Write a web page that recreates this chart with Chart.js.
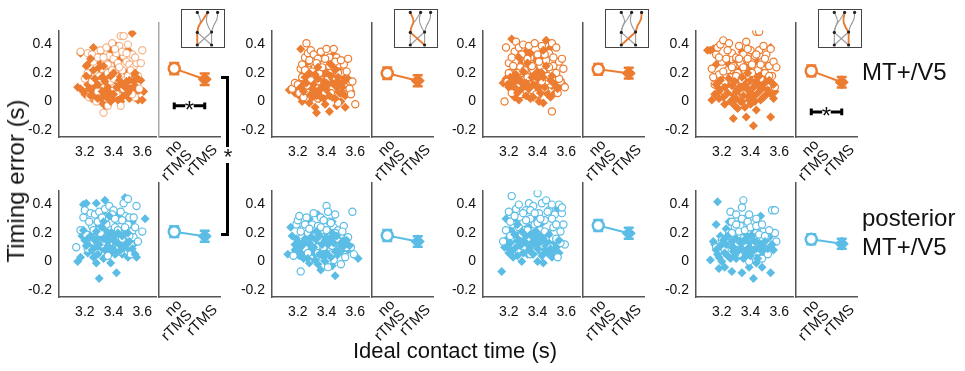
<!DOCTYPE html>
<html><head><meta charset="utf-8">
<script src="https://cdn.jsdelivr.net/npm/chart.js@4.4.1/dist/chart.umd.min.js"></script>
<style>
body{margin:0;background:#fff;width:965px;height:371px;overflow:hidden;position:relative;font-family:"Liberation Sans",Arial,sans-serif;}
canvas{position:absolute;}
.t{position:absolute;color:#111;white-space:nowrap;}
.box{position:absolute;border:1.5px solid #444;box-sizing:border-box;}
.bar{position:absolute;background:#000;}
</style></head><body>
<script>
// ---------------- DATA ----------------
const yTickVals = [-0.2, 0, 0.2, 0.4];
const xTickVals = [3.2, 3.4, 3.6];
const condLabels = [["no", "rTMS"], "rTMS"];
const rowLabels = [["MT+/V5"], ["posterior", "MT+/V5"]];
const yTitle = "Timing error (s)";
const xTitle = "Ideal contact time (s)";

// mean timing error per panel (no rTMS / rTMS) and error bars
const topNoMean = [0.20, 0.17, 0.195, 0.185];
const topNoErr  = [0.037, 0.038, 0.036, 0.035];
const topRMean  = [0.13, 0.12, 0.17, 0.11];
const topRErr   = [0.038, 0.036, 0.035, 0.034];
const botNoMean = [0.18, 0.155, 0.22, 0.13];
const botNoErr  = [0.036, 0.036, 0.036, 0.033];
const botRMean  = [0.15, 0.115, 0.17, 0.10];
const botRErr   = [0.036, 0.035, 0.036, 0.033];

// significance brackets (top row panels 1 and 4)
const sigPanels = [0, 3];
const sigLevels = [-0.045, -0.085];

// scatter: [ideal contact time, timing error]; rTMS = diamonds (two plotting batches), no rTMS = circles
const p1Dia = [[3.15,0.10],[3.17,0.09],[3.17,0.34],[3.19,0.07],[3.2,0.05],[3.21,0.25],[3.22,0.26],[3.22,0.12],[3.23,0.15],[3.24,0.2],[3.25,0.08],[3.25,0.02],[3.26,0.38],[3.27,0.3],[3.27,0.11],[3.28,0.17],[3.28,0.05],[3.29,0.22],[3.3,0.14],[3.3,0.08],[3.31,0.33],[3.31,0.0],[3.32,0.12],[3.33,0.04],[3.33,0.19],[3.34,-0.03],[3.34,0.09],[3.35,0.03],[3.35,0.28],[3.36,0.13],[3.37,0.06],[3.37,0.21],[3.38,0.1],[3.39,0.02],[3.39,0.16],[3.4,0.12],[3.41,0.07],[3.41,0.25],[3.42,0.39],[3.42,0.04],[3.43,0.18],[3.44,0.11],[3.45,0.0],[3.45,0.3],[3.46,0.08],[3.47,0.14],[3.48,0.05],[3.49,0.2],[3.5,0.1],[3.5,0.36],[3.51,0.02],[3.52,0.2],[3.53,0.48],[3.53,0.12],[3.54,0.19],[3.55,0.06],[3.56,0.1],[3.57,0.01],[3.58,0.08],[3.6,0.01],[3.61,0.07],[3.59,0.15],[3.31,0.27],[3.26,0.13],[3.35,0.15],[3.44,0.21],[3.38,0.36]];
const p1DiaB = [[3.21,0.18],[3.23,0.09],[3.24,0.04],[3.26,0.22],[3.27,0.16],[3.29,0.12],[3.29,0.02],[3.3,0.24],[3.32,0.07],[3.32,0.17],[3.34,0.14],[3.36,0.05],[3.36,0.1],[3.38,0.0],[3.38,0.18],[3.4,0.05],[3.4,0.2],[3.42,0.1],[3.43,0.01],[3.44,0.15],[3.46,0.12],[3.46,0.03],[3.48,0.1],[3.49,0.14],[3.5,0.06],[3.51,0.15],[3.52,0.09],[3.54,0.14],[3.55,0.2],[3.57,0.16],[3.24,0.3],[3.33,0.25]];
const p1Cir = [[3.17,0.35],[3.2,0.16],[3.22,0.34],[3.23,0.03],[3.25,0.33],[3.27,0.2],[3.28,0.0],[3.3,0.18],[3.31,0.36],[3.32,0.23],[3.33,-0.08],[3.34,0.28],[3.35,0.38],[3.36,0.2],[3.37,0.32],[3.38,0.25],[3.39,0.41],[3.4,0.3],[3.4,0.1],[3.41,0.2],[3.42,0.34],[3.43,0.27],[3.44,0.39],[3.45,0.46],[3.46,0.22],[3.47,0.46],[3.47,0.32],[3.48,0.15],[3.49,0.28],[3.5,0.4],[3.51,0.26],[3.52,0.14],[3.53,0.33],[3.54,0.24],[3.55,0.03],[3.56,0.27],[3.57,0.18],[3.58,0.09],[3.6,0.36],[3.59,0.27],[3.36,-0.03],[3.45,-0.03],[3.29,0.07],[3.25,0.14],[3.42,0.05],[3.5,0.18],[3.38,0.14],[3.33,0.12],[3.47,0.09],[3.22,0.2],[3.26,0.28],[3.29,0.31],[3.33,0.31],[3.36,0.26],[3.39,0.22],[3.41,0.37],[3.44,0.24],[3.46,0.35],[3.49,0.34],[3.52,0.22],[3.55,0.31],[3.3,0.13],[3.4,0.16],[3.53,0.05]];
const p2Dia = [[3.14,0.08],[3.17,0.09],[3.18,0.06],[3.2,0.1],[3.21,0.04],[3.22,0.37],[3.23,0.15],[3.23,0.0],[3.24,0.2],[3.25,0.12],[3.26,0.05],[3.26,0.27],[3.27,0.18],[3.28,0.09],[3.28,-0.01],[3.29,0.3],[3.3,0.14],[3.3,0.03],[3.31,0.22],[3.32,0.08],[3.32,-0.04],[3.33,0.17],[3.33,-0.08],[3.34,0.11],[3.35,0.02],[3.35,0.25],[3.36,0.14],[3.37,0.06],[3.37,0.32],[3.38,0.19],[3.39,0.1],[3.39,-0.02],[3.4,0.14],[3.41,0.07],[3.41,0.28],[3.42,-0.07],[3.42,0.18],[3.43,0.12],[3.44,0.03],[3.45,0.2],[3.45,0.33],[3.46,0.09],[3.47,0.15],[3.47,-0.03],[3.48,0.24],[3.49,0.06],[3.5,0.12],[3.5,0.0],[3.51,0.18],[3.52,0.28],[3.53,0.04],[3.53,-0.04],[3.54,0.1],[3.55,0.16],[3.57,0.07],[3.29,0.1],[3.36,0.2],[3.44,0.24],[3.27,0.13]];
const p2DiaB = [[3.22,0.1],[3.24,0.07],[3.25,0.17],[3.26,0.13],[3.28,0.2],[3.29,0.05],[3.3,0.09],[3.31,0.12],[3.32,0.19],[3.33,0.04],[3.34,0.16],[3.35,0.08],[3.36,0.03],[3.37,0.11],[3.38,0.14],[3.38,0.02],[3.4,0.08],[3.4,0.2],[3.41,0.12],[3.42,0.04],[3.43,0.18],[3.44,0.13],[3.46,0.22],[3.46,0.02],[3.47,0.1],[3.48,0.17],[3.49,0.13],[3.5,0.06],[3.51,0.1],[3.52,0.14],[3.34,0.24],[3.43,0.26]];
const p2Cir = [[3.16,0.09],[3.18,0.13],[3.2,0.12],[3.21,0.06],[3.22,0.23],[3.23,0.26],[3.24,0.03],[3.25,0.31],[3.26,0.41],[3.27,0.34],[3.27,0.07],[3.28,0.22],[3.29,0.36],[3.3,0.28],[3.31,0.17],[3.31,0.33],[3.32,0.24],[3.33,0.12],[3.34,0.3],[3.35,0.2],[3.36,0.35],[3.37,0.15],[3.38,0.26],[3.39,0.06],[3.4,0.37],[3.4,0.23],[3.41,0.16],[3.42,0.31],[3.43,0.22],[3.44,0.09],[3.45,0.37],[3.45,0.27],[3.46,0.18],[3.47,0.31],[3.48,0.12],[3.49,0.26],[3.5,0.2],[3.51,0.09],[3.52,0.26],[3.53,0.1],[3.54,0.21],[3.55,0.3],[3.56,0.09],[3.57,0.05],[3.58,0.14],[3.6,-0.02],[3.34,0.02],[3.48,-0.01],[3.29,0.15],[3.39,0.13],[3.23,0.17],[3.25,0.22],[3.28,0.29],[3.3,0.21],[3.33,0.27],[3.35,0.14],[3.37,0.24],[3.39,0.3],[3.42,0.25],[3.44,0.17],[3.46,0.28],[3.48,0.2],[3.5,0.29],[3.27,0.11],[3.43,0.06]];
const p3Dia = [[3.16,0.13],[3.18,0.16],[3.2,0.1],[3.21,0.12],[3.22,0.44],[3.22,0.08],[3.23,0.18],[3.24,0.03],[3.25,0.13],[3.26,0.35],[3.27,0.2],[3.27,0.01],[3.28,0.1],[3.29,0.27],[3.3,0.15],[3.3,0.05],[3.31,0.33],[3.32,0.19],[3.33,0.08],[3.33,0.36],[3.34,0.14],[3.35,0.25],[3.35,0.02],[3.36,0.11],[3.37,0.19],[3.38,0.06],[3.38,0.3],[3.39,0.14],[3.4,0.23],[3.41,0.09],[3.41,0.0],[3.42,0.16],[3.43,0.31],[3.44,0.12],[3.44,-0.01],[3.45,0.2],[3.46,0.43],[3.46,0.07],[3.47,0.14],[3.48,0.24],[3.49,0.03],[3.5,0.11],[3.51,0.17],[3.52,0.06],[3.53,0.13],[3.55,0.1],[3.56,0.15],[3.58,0.12],[3.26,0.16],[3.31,0.12],[3.36,0.22],[3.42,0.27],[3.48,0.37]];
const p3DiaB = [[3.19,0.12],[3.21,0.17],[3.22,0.14],[3.24,0.1],[3.25,0.19],[3.26,0.06],[3.28,0.15],[3.29,0.09],[3.3,0.21],[3.32,0.13],[3.32,0.04],[3.33,0.27],[3.34,0.09],[3.36,0.17],[3.37,0.12],[3.37,0.03],[3.39,0.2],[3.4,0.1],[3.4,0.16],[3.42,0.06],[3.43,0.2],[3.44,0.17],[3.45,0.1],[3.46,0.25],[3.47,0.05],[3.49,0.15],[3.5,0.18],[3.52,0.12],[3.54,0.09],[3.27,0.31],[3.35,0.34],[3.44,0.36]];
const p3Cir = [[3.17,0.0],[3.18,0.38],[3.19,0.14],[3.2,0.27],[3.21,0.2],[3.22,0.06],[3.23,0.25],[3.24,0.35],[3.25,0.42],[3.26,0.1],[3.27,0.38],[3.28,0.24],[3.29,0.15],[3.3,0.4],[3.31,0.06],[3.32,0.28],[3.33,0.17],[3.34,0.39],[3.35,0.31],[3.36,0.08],[3.37,0.22],[3.38,0.41],[3.39,0.18],[3.4,0.33],[3.41,0.05],[3.42,0.25],[3.43,0.39],[3.44,0.21],[3.45,0.09],[3.46,0.29],[3.47,0.18],[3.48,0.34],[3.49,0.12],[3.5,-0.07],[3.5,0.41],[3.51,0.25],[3.52,0.17],[3.53,0.38],[3.54,0.06],[3.55,0.28],[3.56,0.14],[3.57,0.3],[3.58,0.23],[3.59,0.1],[3.55,0.16],[3.28,0.05],[3.34,0.12],[3.46,0.14],[3.2,0.2],[3.22,0.31],[3.26,0.2],[3.29,0.33],[3.31,0.22],[3.33,0.3],[3.36,0.25],[3.38,0.16],[3.41,0.28],[3.43,0.14],[3.45,0.33],[3.48,0.24],[3.51,0.31],[3.53,0.2],[3.39,0.05]];
const p4Dia = [[3.1,0.36],[3.12,0.36],[3.14,0.37],[3.13,0.01],[3.15,0.05],[3.16,0.26],[3.17,0.1],[3.18,0.02],[3.2,0.08],[3.21,0.15],[3.22,-0.02],[3.23,0.05],[3.24,0.27],[3.25,0.11],[3.26,0.0],[3.27,0.06],[3.28,-0.12],[3.28,0.18],[3.29,0.09],[3.3,0.02],[3.31,0.14],[3.31,-0.05],[3.32,0.22],[3.33,0.06],[3.34,0.35],[3.34,0.0],[3.35,0.1],[3.36,-0.04],[3.37,0.16],[3.37,-0.11],[3.38,0.04],[3.39,0.24],[3.4,0.08],[3.4,-0.02],[3.41,0.13],[3.42,-0.17],[3.42,0.03],[3.43,0.19],[3.44,0.07],[3.44,-0.06],[3.45,0.28],[3.46,0.12],[3.47,0.01],[3.47,0.21],[3.48,0.09],[3.49,0.16],[3.5,0.04],[3.51,0.11],[3.52,0.25],[3.53,0.06],[3.54,0.38],[3.54,-0.11],[3.55,0.13],[3.56,0.02],[3.57,0.07],[3.36,0.25],[3.3,0.29],[3.48,0.18]];
const p4DiaB = [[3.16,0.12],[3.18,0.07],[3.19,0.15],[3.21,0.03],[3.22,0.1],[3.24,0.06],[3.25,0.16],[3.27,0.11],[3.28,0.02],[3.29,0.14],[3.3,0.07],[3.32,0.1],[3.33,0.0],[3.34,0.17],[3.35,0.04],[3.36,0.12],[3.38,0.09],[3.39,0.01],[3.4,0.15],[3.41,0.05],[3.42,0.1],[3.43,0.0],[3.44,0.14],[3.45,0.06],[3.46,0.18],[3.47,0.09],[3.49,0.03],[3.5,0.13],[3.52,0.08],[3.53,0.15],[3.55,0.05],[3.56,0.12],[3.38,0.2],[3.29,-0.03]];
const p4Cir = [[3.13,0.23],[3.15,0.12],[3.16,0.33],[3.17,0.38],[3.18,0.19],[3.19,0.4],[3.2,0.28],[3.21,0.43],[3.22,0.14],[3.23,0.3],[3.24,0.22],[3.25,0.41],[3.26,0.17],[3.27,0.34],[3.28,0.25],[3.29,0.12],[3.3,0.31],[3.31,0.2],[3.32,0.39],[3.33,0.27],[3.34,0.15],[3.35,0.33],[3.36,0.22],[3.37,0.42],[3.38,0.3],[3.39,0.18],[3.4,0.36],[3.41,0.26],[3.42,0.12],[3.43,0.32],[3.44,0.49],[3.46,0.49],[3.45,0.22],[3.46,0.36],[3.47,0.16],[3.48,0.28],[3.49,0.39],[3.5,0.2],[3.51,0.33],[3.52,0.12],[3.53,0.25],[3.54,0.37],[3.55,0.18],[3.56,0.28],[3.57,0.1],[3.58,0.24],[3.22,0.06],[3.35,0.05],[3.44,0.08],[3.14,0.17],[3.18,0.31],[3.21,0.21],[3.24,0.36],[3.27,0.24],[3.3,0.18],[3.32,0.3],[3.35,0.24],[3.38,0.37],[3.41,0.2],[3.44,0.33],[3.47,0.26],[3.5,0.3],[3.53,0.18],[3.26,0.08],[3.41,0.1]];
const p5Dia = [[3.15,0.0],[3.17,0.03],[3.18,0.18],[3.19,0.4],[3.2,0.15],[3.21,0.41],[3.22,0.06],[3.23,0.28],[3.24,0.12],[3.25,0.2],[3.26,0.03],[3.27,0.1],[3.28,0.41],[3.28,-0.01],[3.29,0.17],[3.3,-0.12],[3.3,0.26],[3.31,0.08],[3.32,0.14],[3.33,0.34],[3.33,0.02],[3.34,0.43],[3.35,0.1],[3.36,0.2],[3.37,0.06],[3.38,-0.01],[3.38,0.16],[3.39,0.28],[3.4,0.13],[3.41,0.05],[3.42,-0.08],[3.42,0.19],[3.43,0.1],[3.44,0.33],[3.45,0.15],[3.46,0.05],[3.47,0.23],[3.48,0.45],[3.48,0.11],[3.49,0.18],[3.5,0.03],[3.51,0.08],[3.52,0.15],[3.53,0.28],[3.54,0.12],[3.56,0.03],[3.62,0.3],[3.35,0.21],[3.4,0.22],[3.31,0.18]];
const p5DiaB = [[3.19,0.22],[3.21,0.11],[3.22,0.16],[3.24,0.18],[3.25,0.08],[3.27,0.15],[3.28,0.21],[3.29,0.05],[3.3,0.12],[3.32,0.24],[3.33,0.16],[3.34,0.08],[3.35,0.17],[3.36,0.11],[3.37,0.15],[3.38,0.2],[3.39,0.09],[3.4,0.18],[3.41,0.14],[3.42,0.06],[3.43,0.2],[3.44,0.12],[3.45,0.08],[3.46,0.18],[3.47,0.1],[3.49,0.12],[3.5,0.2],[3.51,0.14],[3.53,0.09],[3.55,0.05],[3.33,0.28],[3.37,0.32]];
const p5Cir = [[3.14,0.1],[3.17,0.22],[3.19,0.31],[3.2,0.36],[3.21,0.19],[3.22,0.09],[3.24,0.34],[3.25,0.25],[3.26,0.14],[3.27,0.33],[3.28,0.22],[3.29,0.06],[3.3,0.35],[3.31,0.28],[3.32,0.12],[3.33,0.25],[3.34,0.37],[3.35,0.31],[3.36,0.04],[3.37,0.39],[3.38,0.27],[3.39,0.16],[3.4,0.36],[3.41,0.24],[3.42,0.13],[3.43,0.29],[3.44,0.21],[3.45,0.07],[3.46,0.16],[3.47,0.41],[3.48,0.32],[3.49,0.19],[3.5,0.44],[3.5,0.26],[3.51,0.31],[3.52,0.12],[3.53,0.21],[3.54,0.17],[3.55,0.24],[3.56,0.39],[3.57,0.14],[3.6,0.21],[3.52,0.05],[3.29,0.13],[3.44,0.1],[3.23,0.28],[3.26,0.22],[3.29,0.28],[3.32,0.31],[3.35,0.26],[3.37,0.12],[3.39,0.33],[3.41,0.3],[3.43,0.22],[3.46,0.29],[3.48,0.24],[3.51,0.18],[3.54,0.31],[3.31,0.2],[3.45,0.35]];
const p6Dia = [[3.13,0.05],[3.15,0.24],[3.16,0.18],[3.18,0.08],[3.2,0.1],[3.21,0.04],[3.22,0.14],[3.23,0.2],[3.24,0.02],[3.25,0.11],[3.26,0.06],[3.27,0.17],[3.28,-0.01],[3.28,0.3],[3.29,0.1],[3.3,0.2],[3.31,0.04],[3.32,0.14],[3.33,0.08],[3.34,0.33],[3.34,-0.02],[3.35,0.12],[3.36,-0.06],[3.36,0.21],[3.37,0.07],[3.38,0.15],[3.39,0.0],[3.4,0.11],[3.41,0.19],[3.42,0.05],[3.43,0.13],[3.44,0.28],[3.44,-0.03],[3.45,0.09],[3.46,-0.1],[3.46,0.16],[3.47,0.04],[3.48,0.12],[3.49,0.19],[3.5,0.07],[3.51,0.15],[3.52,0.1],[3.53,0.16],[3.55,0.08],[3.62,0.02],[3.3,0.08],[3.4,0.17],[3.26,0.12]];
const p6DiaB = [[3.18,0.12],[3.19,0.16],[3.21,0.09],[3.22,0.06],[3.23,0.11],[3.25,0.16],[3.27,0.02],[3.28,0.13],[3.29,0.17],[3.31,0.1],[3.32,0.01],[3.33,0.16],[3.35,0.05],[3.35,0.18],[3.37,0.12],[3.38,0.03],[3.39,0.15],[3.4,0.06],[3.41,0.12],[3.42,0.16],[3.43,0.03],[3.45,0.13],[3.46,0.07],[3.47,0.18],[3.48,0.07],[3.5,0.13],[3.51,0.1],[3.53,0.12],[3.54,0.15],[3.56,0.11],[3.33,0.21],[3.44,0.2]];
const p6Cir = [[3.17,0.04],[3.19,0.26],[3.2,0.29],[3.21,0.32],[3.22,-0.07],[3.23,0.17],[3.24,0.23],[3.25,0.09],[3.26,0.31],[3.27,0.2],[3.28,0.14],[3.29,0.02],[3.3,0.26],[3.31,0.34],[3.32,0.18],[3.33,0.1],[3.34,0.25],[3.35,0.16],[3.36,0.31],[3.37,0.03],[3.38,0.22],[3.39,0.12],[3.4,0.39],[3.41,0.35],[3.41,-0.04],[3.42,0.28],[3.43,0.2],[3.44,0.06],[3.45,0.24],[3.46,0.33],[3.47,0.14],[3.48,0.22],[3.49,0.08],[3.5,-0.02],[3.5,0.19],[3.52,0.25],[3.53,0.03],[3.55,0.17],[3.57,0.1],[3.58,0.35],[3.59,0.05],[3.45,0.01],[3.34,0.06],[3.38,0.1],[3.22,0.21],[3.25,0.26],[3.28,0.23],[3.3,0.12],[3.33,0.2],[3.36,0.24],[3.38,0.29],[3.4,0.22],[3.43,0.27],[3.46,0.2],[3.48,0.14],[3.51,0.21],[3.54,0.1],[3.27,0.06],[3.44,0.11]];
const p7Dia = [[3.15,-0.07],[3.17,0.1],[3.18,0.3],[3.19,0.16],[3.2,0.06],[3.21,0.22],[3.22,0.28],[3.23,0.03],[3.24,0.13],[3.25,0.31],[3.26,0.18],[3.27,0.07],[3.28,0.26],[3.29,0.0],[3.3,0.15],[3.31,0.2],[3.32,0.1],[3.33,0.05],[3.34,0.24],[3.35,0.14],[3.36,0.09],[3.37,0.2],[3.38,0.32],[3.39,0.12],[3.4,0.0],[3.41,0.17],[3.42,0.07],[3.43,0.27],[3.44,-0.01],[3.45,0.13],[3.46,0.2],[3.47,0.06],[3.48,0.13],[3.5,0.03],[3.52,0.13],[3.54,0.37],[3.55,0.06],[3.23,0.19],[3.3,0.11],[3.36,0.16]];
const p7DiaB = [[3.19,0.1],[3.21,0.13],[3.22,0.07],[3.24,0.19],[3.25,0.1],[3.26,0.04],[3.27,0.15],[3.28,0.11],[3.29,0.21],[3.3,0.06],[3.31,0.14],[3.32,0.18],[3.33,0.12],[3.34,0.08],[3.35,0.19],[3.36,0.13],[3.37,0.05],[3.38,0.16],[3.39,0.21],[3.4,0.09],[3.41,0.13],[3.42,0.18],[3.43,0.04],[3.44,0.16],[3.45,0.08],[3.46,0.13],[3.48,0.19],[3.49,0.09],[3.51,0.07],[3.53,0.1],[3.55,0.15],[3.26,0.26]];
const p7Cir = [[3.16,0.14],[3.18,0.22],[3.2,0.35],[3.21,0.18],[3.22,0.46],[3.23,0.26],[3.24,0.11],[3.25,0.37],[3.26,0.23],[3.27,0.4],[3.28,0.31],[3.29,0.19],[3.3,0.27],[3.31,0.09],[3.32,0.36],[3.33,0.22],[3.34,0.41],[3.35,0.3],[3.36,0.17],[3.37,0.39],[3.38,0.26],[3.39,0.08],[3.4,0.48],[3.41,0.34],[3.42,0.22],[3.43,0.41],[3.44,0.14],[3.45,0.29],[3.46,0.43],[3.47,0.2],[3.48,0.36],[3.49,0.1],[3.5,0.4],[3.51,0.24],[3.52,0.33],[3.53,0.16],[3.54,0.03],[3.55,0.4],[3.56,0.21],[3.57,0.34],[3.58,0.26],[3.59,0.12],[3.57,0.38],[3.27,0.07],[3.35,0.05],[3.44,0.08],[3.21,0.28],[3.24,0.32],[3.27,0.24],[3.3,0.34],[3.32,0.29],[3.35,0.36],[3.38,0.34],[3.4,0.27],[3.42,0.3],[3.45,0.21],[3.47,0.35],[3.5,0.3],[3.53,0.26],[3.56,0.13],[3.33,0.15]];
const p8Dia = [[3.12,0.01],[3.14,0.14],[3.15,0.12],[3.16,0.26],[3.17,0.42],[3.17,0.05],[3.18,-0.05],[3.19,0.18],[3.2,0.0],[3.21,0.09],[3.22,-0.04],[3.23,0.23],[3.24,0.04],[3.25,0.28],[3.26,0.11],[3.27,-0.07],[3.28,0.07],[3.29,0.17],[3.3,0.02],[3.31,0.12],[3.32,0.27],[3.33,0.06],[3.34,-0.08],[3.35,0.14],[3.36,0.03],[3.37,0.19],[3.38,0.09],[3.39,-0.04],[3.4,0.14],[3.41,0.06],[3.42,-0.12],[3.42,0.21],[3.43,0.1],[3.44,-0.01],[3.45,0.16],[3.46,0.05],[3.47,0.11],[3.48,-0.04],[3.49,0.16],[3.5,0.06],[3.51,0.12],[3.53,0.17],[3.54,-0.08],[3.56,0.08],[3.47,0.32],[3.32,0.15],[3.38,0.12]];
const p8DiaB = [[3.16,0.08],[3.18,0.03],[3.19,0.11],[3.21,0.15],[3.22,0.06],[3.23,0.12],[3.24,0.18],[3.26,0.02],[3.27,0.14],[3.28,0.1],[3.29,0.04],[3.3,0.16],[3.31,0.07],[3.33,0.13],[3.34,0.09],[3.35,0.02],[3.36,0.15],[3.37,0.06],[3.38,0.17],[3.39,0.1],[3.4,0.04],[3.41,0.18],[3.42,0.08],[3.43,0.14],[3.44,0.09],[3.45,0.02],[3.46,0.13],[3.48,0.07],[3.49,0.1],[3.5,0.14],[3.52,0.09],[3.55,0.12]];
const p8Cir = [[3.16,0.1],[3.2,0.15],[3.22,0.08],[3.24,0.13],[3.25,0.2],[3.26,0.35],[3.27,0.28],[3.28,0.15],[3.29,0.24],[3.3,0.33],[3.31,0.19],[3.32,0.05],[3.33,0.25],[3.34,0.38],[3.35,0.43],[3.35,0.14],[3.36,0.3],[3.37,0.1],[3.38,0.22],[3.39,0.33],[3.4,0.17],[3.41,0.04],[3.42,0.27],[3.43,0.11],[3.44,0.2],[3.45,0.07],[3.46,0.25],[3.47,0.15],[3.48,0.02],[3.49,0.21],[3.5,0.1],[3.51,0.18],[3.52,0.05],[3.53,0.12],[3.55,0.36],[3.57,0.36],[3.57,0.2],[3.58,0.14],[3.39,0.0],[3.29,0.1],[3.44,0.3],[3.27,0.2],[3.3,0.26],[3.32,0.21],[3.34,0.3],[3.36,0.22],[3.38,0.28],[3.4,0.24],[3.42,0.17],[3.44,0.25],[3.46,0.19],[3.48,0.26],[3.5,0.18],[3.53,0.22],[3.31,0.13],[3.36,0.07]];

// inset path diagrams (coordinates inside the 44x39 inset box)
const insetNodes = [[16.3,3.4],[26.6,3.4],[36.6,3.4],[16.3,23.4],[30.6,23],[16.3,36],[30.6,36]];
const insetCurves = [
  [[16.3,3.4],[19.5,12],[17.2,19],[16.3,23.4]],
  [[26.6,3.4],[22.5,10],[17.8,17],[16.3,23.4]],
  [[26.6,3.4],[25.5,12],[28,19],[30.6,23]],
  [[36.6,3.4],[36,10],[32.5,17],[30.6,23]]
];
const insetLines = [
  [[16.3,23.4],[16.3,36]], [[30.6,23],[30.6,36]], [[16.3,23.4],[30.6,36]], [[30.6,23],[16.3,36]]
];
const insetHighlight = [[1, 0], [0, 2], [3, 3], [2, 1]]; // [curve index, straight index] per inset

// ---------------- LAYOUT / STYLE ----------------
const FONT = '"Liberation Sans", Arial, sans-serif';
const ORANGE = '#EC7C30', BLUE = '#5BBDE5';
const AX_X = [59, 272, 483, 696];
const ROW_TOP = [23, 183];
const SC_W = 100, LN_W = 61, PLOT_H = 114, YL = 45, PADT = 8, LL = 40;
const AXIS_C = '#555';

const scatterSets = [[p1Cir,p1Dia,p1DiaB],[p2Cir,p2Dia,p2DiaB],[p3Cir,p3Dia,p3DiaB],[p4Cir,p4Dia,p4DiaB],
                     [p5Cir,p5Dia,p5DiaB],[p6Cir,p6Dia,p6DiaB],[p7Cir,p7Dia,p7DiaB],[p8Cir,p8Dia,p8DiaB]];

function addCanvas(left, top, w, h) {
  const c = document.createElement('canvas');
  c.width = w; c.height = h;
  c.style.left = left + 'px'; c.style.top = top + 'px';
  c.style.width = w + 'px'; c.style.height = h + 'px';
  document.body.appendChild(c);
  return c;
}
function addText(txt, css) {
  const d = document.createElement('div');
  d.className = 't';
  d.innerHTML = txt;
  Object.assign(d.style, css);
  document.body.appendChild(d);
  return d;
}
const xy = arr => arr.map(p => ({x: p[0], y: p[1]}));
const base = {animation: false, responsive: false, events: [],
  plugins: {legend: {display: false}, tooltip: {enabled: false}}};

const errPlugin = {
  id: 'errbars',
  beforeDatasetsDraw(chart) {
    const ctx = chart.ctx, xs = chart.scales.x, ys = chart.scales.y;
    chart.data.datasets.forEach(ds => {
      if (!ds.errorBars) return;
      ds.data.forEach((p, i) => {
        const e = ds.errorBars[i];
        const x = xs.getPixelForValue(p.x);
        const y1 = ys.getPixelForValue(p.y - e), y2 = ys.getPixelForValue(p.y + e);
        ctx.save();
        ctx.strokeStyle = ds.errColor;
        ctx.lineWidth = 2.5;
        ctx.beginPath();
        ctx.moveTo(x, y1); ctx.lineTo(x, y2);
        ctx.moveTo(x - 5, y1); ctx.lineTo(x + 5, y1);
        ctx.moveTo(x - 5, y2); ctx.lineTo(x + 5, y2);
        ctx.stroke();
        ctx.restore();
      });
    });
  }
};

// rotated condition labels under the mean panels (multi-line block centred on its anchor)
const condLabelPlugin = {
  id: 'condlabels',
  afterDraw(chart) {
    const ctx = chart.ctx, xs = chart.scales.x;
    const axisY = chart.chartArea.bottom;
    ctx.save();
    ctx.font = '15px ' + FONT;
    ctx.fillStyle = '#111';
    ctx.textAlign = 'right';
    ctx.textBaseline = 'middle';
    condLabels.forEach((lab, i) => {
      const lines = Array.isArray(lab) ? lab : [lab];
      const cx = xs.getPixelForValue(i + 1) + 10.5, cy = axisY + 10.5;
      ctx.save();
      ctx.translate(cx, cy);
      ctx.rotate(-Math.PI / 4);
      lines.forEach((ln, k) => ctx.fillText(ln, 0, (k - (lines.length - 1) / 2) * 14.5));
      ctx.restore();
    });
    ctx.restore();
  }
};

const charts = {};

for (let row = 0; row < 2; row++) {
  for (let col = 0; col < 4; col++) {
    const idx = row * 4 + col;
    const color = row === 0 ? ORANGE : BLUE;
    const circColor = idx === 0 ? 'rgba(236,124,48,0.55)' : color;
    const [cir, dia, diaB] = scatterSets[idx];
    // scatter part (dataset 0 is drawn on top)
    const c1 = addCanvas(AX_X[col] - YL, ROW_TOP[row] - PADT, YL + SC_W, PADT + PLOT_H + 32);
    new Chart(c1, {
      type: 'scatter',
      data: {datasets: [
        {data: xy(diaB), pointStyle: 'rectRot', pointRadius: 4.5, borderWidth: 0, backgroundColor: color},
        {data: xy(cir), pointStyle: 'circle', pointRadius: 3.6, borderWidth: 1.2, borderColor: circColor, backgroundColor: '#fff'},
        {data: xy(dia), pointStyle: 'rectRot', pointRadius: 4.5, borderWidth: 0, backgroundColor: color}
      ]},
      options: Object.assign({}, base, {
        layout: {padding: {top: PADT, left: 0, right: 0, bottom: 0}, autoPadding: false},
        scales: {
          x: {type: 'linear', min: 3.02, max: 3.7,
            grid: {display: false, drawTicks: false},
            border: {color: AXIS_C, width: 1.5},
            ticks: {font: {size: 14, family: FONT}, color: '#111', padding: 7, callback: v => v.toFixed(1)},
            afterBuildTicks: s => { s.ticks = xTickVals.map(v => ({value: v})); },
            afterFit: s => { s.height = 32; }},
          y: {type: 'linear', min: -0.25, max: 0.5,
            grid: {display: false, drawTicks: false},
            border: {color: AXIS_C, width: 1.5},
            ticks: {font: {size: 14, family: FONT}, color: '#111', padding: 7, callback: v => v === 0 ? '0' : v.toFixed(1)},
            afterBuildTicks: s => { s.ticks = yTickVals.map(v => ({value: v})); },
            afterFit: s => { s.width = YL; }}
        }
      })
    });
    // mean part
    const noM = row === 0 ? topNoMean[col] : botNoMean[col];
    const noE = row === 0 ? topNoErr[col] : botNoErr[col];
    const rM = row === 0 ? topRMean[col] : botRMean[col];
    const rE = row === 0 ? topRErr[col] : botRErr[col];
    const ds = [
      {data: [{x: 1, y: noM}], pointStyle: 'circle', pointRadius: 5.5, borderWidth: 2.5, borderColor: color, backgroundColor: '#fff', errorBars: [noE], errColor: color},
      {data: [{x: 2, y: rM}], pointStyle: 'rectRot', pointRadius: 7, borderWidth: 0, backgroundColor: color, borderColor: color, errorBars: [rE], errColor: color},
      {data: [{x: 1, y: noM}, {x: 2, y: rM}], showLine: true, borderColor: color, borderWidth: 2, pointRadius: 0}
    ];
    const si = row === 0 ? sigPanels.indexOf(col) : -1;
    if (si >= 0) {
      const b = sigLevels[si];
      ds.push({data: [{x: 1, y: b - 0.022}, {x: 1, y: b + 0.022}, {x: 1, y: null},
                      {x: 1, y: b}, {x: 1.36, y: b}, {x: 1.36, y: null},
                      {x: 1.64, y: b}, {x: 2, y: b}, {x: 2, y: null},
                      {x: 2, y: b - 0.022}, {x: 2, y: b + 0.022}],
               showLine: true, spanGaps: false, borderColor: '#000', borderWidth: 3, pointRadius: 0});
    }
    const lLeft = AX_X[col] + SC_W - LL, lTop = ROW_TOP[row] - PADT;
    const c2 = addCanvas(lLeft, lTop, LL + LN_W + 16, PADT + PLOT_H + 62);
    const ch = new Chart(c2, {
      type: 'scatter',
      data: {datasets: ds},
      plugins: [errPlugin, condLabelPlugin],
      options: Object.assign({}, base, {
        layout: {padding: {top: PADT, left: 0, right: 16, bottom: 0}, autoPadding: false},
        scales: {
          x: {type: 'linear', min: 0.5, max: 2.5,
            grid: {display: false, drawTicks: false},
            border: {color: AXIS_C, width: 1.5},
            ticks: {display: false},
            afterBuildTicks: s => { s.ticks = [{value: 1}, {value: 2}]; },
            afterFit: s => { s.height = 62; }},
          y: {type: 'linear', min: -0.25, max: 0.5,
            grid: {display: false, drawTicks: false},
            border: {color: idx === 0 ? '#aaa' : AXIS_C, width: 1.5},
            ticks: {display: false},
            afterFit: s => { s.width = LL; }}
        }
      })
    });
    charts[idx] = {chart: ch, left: lLeft, top: lTop};
    if (si >= 0) {
      const px = lLeft + ch.scales.x.getPixelForValue(1.5);
      const py = lTop + ch.scales.y.getPixelForValue(sigLevels[si]);
      addText('*', {left: (px - 7) + 'px', top: (py - 8) + 'px', fontSize: '24px', lineHeight: '24px', width: '14px', textAlign: 'center'});
    }
    // inset diagram (top row)
    if (row === 0) {
      const bx = AX_X[col] + SC_W + 22, by = 8.5;
      const c3 = addCanvas(bx, by, 44, 39);
      const [hc, hl] = insetHighlight[col];
      const ids = [];
      insetCurves.forEach(cv => ids.push({data: xy(cv), showLine: true, tension: 0.4, borderColor: '#9a9a9a', borderWidth: 1.1, pointRadius: 0}));
      insetLines.forEach(ln => ids.push({data: xy(ln), showLine: true, borderColor: '#9a9a9a', borderWidth: 1.1, pointRadius: 0}));
      ids.push({data: xy(insetCurves[hc]), showLine: true, tension: 0.4, borderColor: ORANGE, borderWidth: 1.8, pointRadius: 0});
      ids.push({data: xy(insetLines[hl]), showLine: true, borderColor: ORANGE, borderWidth: 1.8, pointRadius: 0});
      ids.push({data: xy(insetNodes), pointRadius: 1.6, backgroundColor: '#222', borderWidth: 0});
      ids.reverse();
      new Chart(c3, {
        type: 'scatter', data: {datasets: ids},
        options: Object.assign({}, base, {
          layout: {padding: 0, autoPadding: false},
          scales: {x: {display: false, min: 0, max: 44}, y: {display: false, min: 0, max: 39, reverse: true}}
        })
      });
      const bd = document.createElement('div');
      bd.className = 'box';
      Object.assign(bd.style, {left: bx + 'px', top: by + 'px', width: '44px', height: '39px'});
      document.body.appendChild(bd);
    }
  }
}

// vertical significance bracket between the two rTMS means of panel 1
{
  const t = charts[0], b = charts[4];
  const y1 = t.top + t.chart.scales.y.getPixelForValue(topRMean[0]) - 3;
  const y2 = b.top + b.chart.scales.y.getPixelForValue(botRMean[0]) - 3;
  const xb = 226;
  const mid = (y1 + y2) / 2;
  const mk = (l, tp, w, h) => { const d = document.createElement('div'); d.className = 'bar';
    Object.assign(d.style, {left: l + 'px', top: tp + 'px', width: w + 'px', height: h + 'px'}); document.body.appendChild(d); };
  mk(xb, y1, 3, mid - 8 - y1);
  mk(xb, mid + 8, 3, y2 + 3 - mid - 8);
  mk(xb - 5, y1, 8, 3);
  mk(xb - 5, y2, 8, 3);
  addText('*', {left: (xb - 5) + 'px', top: (mid - 9) + 'px', fontSize: '22px', lineHeight: '22px', width: '14px', textAlign: 'center'});
}

// titles and row labels
addText(yTitle, {left: '16px', top: '181px', fontSize: '24px', transform: 'translate(-50%,-50%) rotate(-90deg)'});
addText(xTitle, {left: '455px', top: '351px', fontSize: '22px', transform: 'translate(-50%,-50%)'});
addText(rowLabels[0].join('<br>'), {left: '862px', top: '57px', fontSize: '24px', lineHeight: '29px'});
addText(rowLabels[1].join('<br>'), {left: '862px', top: '203px', fontSize: '24px', lineHeight: '29px'});
</script>
</body></html>
